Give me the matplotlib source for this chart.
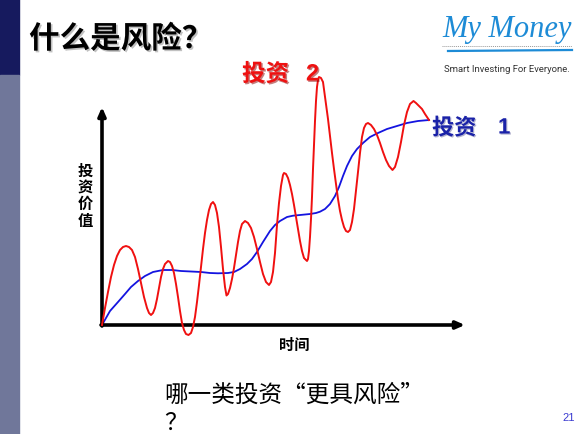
import matplotlib
matplotlib.use('Agg')
import matplotlib.pyplot as plt
import matplotlib.patheffects as pe
from matplotlib.patches import Rectangle
from matplotlib.lines import Line2D

plt.rcParams['font.family'] = ['Noto Sans CJK SC', 'DejaVu Sans']

# values (time, value) - arbitrary units
inv2_time = [0, 3, 6, 9, 12, 15, 18, 21, 24,
             27, 30, 33, 36, 39, 42, 45, 47, 49,
             51, 53, 55, 57, 59, 61, 63, 66,
             68, 70, 72, 74, 76, 78, 80, 82, 84, 86.5,
             89, 91, 93, 95, 97, 99, 101, 103, 105, 107, 109, 111,
             113, 115, 117, 119, 121, 123, 124.5,
             126, 128, 130, 132, 134, 136, 138, 140, 143,
             146, 149, 152, 155, 158, 161, 164, 167,
             169, 171, 173, 175, 177, 179, 181, 182,
             184, 186, 188, 190, 192, 194, 196, 198, 200, 202, 205,
             206, 207, 208, 209, 210, 211, 212, 213, 214, 215, 216, 217,
             219, 221, 224, 226, 228, 230, 232, 234, 236, 238, 240, 242, 244, 246,
             248, 250, 252, 254, 256, 258, 260, 262, 264, 266,
             269, 272, 275, 278, 281, 284, 287, 290.5,
             293, 296, 299, 302, 305, 308, 311.5,
             314, 317, 320, 323, 327]
inv2_value = [0, 17, 33, 48, 60, 69, 75, 78, 79,
              78, 75, 68, 56, 42, 28, 17, 12, 10,
              12, 17, 26, 37, 48, 56, 61, 64,
              63, 59, 52, 41, 28, 14, 2, -5, -9, -10,
              -8, -2, 8, 23, 40, 58, 76, 92, 105, 115, 121, 123,
              120, 112, 98, 78, 56, 38, 29.5,
              31, 37, 46, 57, 70, 83, 94, 101, 104,
              102, 97, 88, 76, 63, 51, 43, 40,
              43, 53, 72, 100, 122, 139, 150, 152,
              151, 147, 140, 131, 120, 108, 96, 84, 74, 67, 64,
              66, 74, 88, 106, 128, 156, 180, 204, 224, 238, 245, 248,
              247, 243, 221, 206, 189, 172, 156, 141, 126, 114, 105, 98, 94, 93,
              95, 103, 116, 134, 153, 172, 188, 197, 201, 202,
              200, 196, 190, 182, 173, 165, 159, 155,
              158, 168, 183, 200, 213, 221, 224,
              222, 219, 216, 211, 205]

inv1_time = [0, 8, 16, 23, 29, 36, 43, 51, 61, 70, 79, 89, 99, 108, 116, 126, 132, 138, 145,
             150, 155, 161, 168, 173, 178, 185, 191, 198, 208, 214, 218, 223, 228, 233, 237,
             241, 245, 250, 255, 261, 268, 276, 285, 295, 305, 316, 327]
inv1_value = [0, 14, 23, 31, 38, 44, 49, 53, 55, 55, 54, 53.5, 53, 52, 51.7, 52, 53, 56, 61,
              66, 73, 83, 94, 100, 104, 108, 109.3, 110, 111, 112, 113.3, 116, 121, 129, 138,
              149, 159, 169, 176, 182, 188, 192, 196, 199, 202, 204, 205]

W, H = 580, 435
fig = plt.figure(figsize=(W / 100, H / 100), dpi=100)
fig.patch.set_facecolor('white')


def fx(x):
    return x / W


def fy(y):
    return 1 - y / H


# left side bar
fig.patches.append(Rectangle((0, fy(76)), fx(19), 76 / H, transform=fig.transFigure,
                             color='#161a5e', zorder=0))
fig.patches.append(Rectangle((0, 0), fx(19), fy(76), transform=fig.transFigure,
                             color='#70779a', zorder=0))

# chart area, origin of the axes sits at pixel (102, 326)
ax = fig.add_axes([fx(102), fy(326), fx(470) - fx(102), (326 - 100) / H])
ax.set_xlim(0, 368)
ax.set_ylim(0, 226)
ax.axis('off')

ax.plot(inv1_time, inv1_value, color='#1414e0', lw=1.3, clip_on=False, zorder=3)
ax.plot(inv2_time, inv2_value, color='#f01010', lw=1.4, clip_on=False, zorder=4)

arrow = dict(arrowstyle='-|>,head_length=0.5,head_width=0.22', color='black', lw=2.6,
             shrinkA=0, shrinkB=0)
ax.annotate('', xy=(363, 0), xytext=(-1, 0), arrowprops=arrow, annotation_clip=False)
ax.annotate('', xy=(0, 218), xytext=(0, -1), arrowprops=arrow, annotation_clip=False)

shadow = [pe.withSimplePatchShadow(offset=(1.2, -1.2), shadow_rgbFace='#999999', alpha=0.6)]

fig.text(fx(29), fy(40), '什么是风险？', fontsize=22, fontweight='bold', color='black',
         va='center', ha='left', path_effects=shadow)

red_shadow = [pe.withSimplePatchShadow(offset=(1, -1), shadow_rgbFace='#8a0000', alpha=0.5)]
fig.text(fx(242), fy(75), '投资', fontsize=17, fontweight='bold', color='#ee1111',
         va='center', ha='left', path_effects=red_shadow)
fig.text(fx(306), fy(75), '2', fontsize=17, fontweight='bold', color='#ee1111',
         family='Liberation Sans', va='center', ha='left', path_effects=red_shadow)

blue_shadow = [pe.withSimplePatchShadow(offset=(0.8, -0.8), shadow_rgbFace='#000060', alpha=0.3)]
fig.text(fx(432), fy(129), '投资', fontsize=16, fontweight='bold', color='#1a22a8',
         va='center', ha='left', path_effects=blue_shadow)
fig.text(fx(498), fy(129), '1', fontsize=16, fontweight='bold', color='#1a22a8',
         family='Liberation Sans', va='center', ha='left', path_effects=blue_shadow)

fig.text(fx(85), fy(196), '投\n资\n价\n值', fontsize=11, fontweight='bold', color='black',
         va='center', ha='center', linespacing=1.05)
fig.text(fx(294), fy(345), '时间', fontsize=11, fontweight='bold', color='black',
         va='center', ha='center')

fig.text(fx(164), fy(395), '哪一类投资“更具风险”', fontsize=17, color='black',
         va='center', ha='left')
fig.text(fx(164), fy(423), '？', fontsize=17, color='black', va='center', ha='left')

fig.text(fx(575), fy(418), '21', fontsize=8, color='#3a3ad0', family='Liberation Sans',
         va='center', ha='right')

# logo
fig.text(fx(507), fy(29), 'My Money', fontsize=22, style='italic', color='#1d8bd6',
         family='Liberation Serif', va='center', ha='center')
fig.lines.append(Line2D([fx(442), fx(572)], [fy(47), fy(47)], transform=fig.transFigure,
                        color='#999999', lw=0.7, ls=(0, (1, 1))))
fig.lines.append(Line2D([fx(448), fx(572)], [fy(52), fy(51)], transform=fig.transFigure,
                        color='#1d8bd6', lw=1.6))
fig.text(fx(507), fy(70), 'Smart Investing For Everyone.', fontsize=6.8, color='#333333',
         family='Roboto', va='center', ha='center')

fig.savefig('out.png', dpi=100)
